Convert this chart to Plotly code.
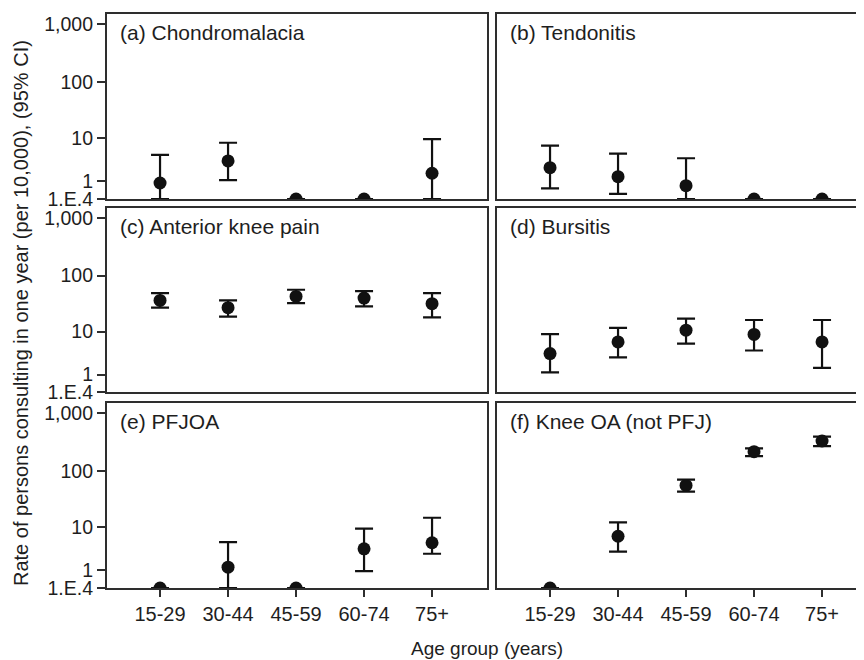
import plotly.graph_objects as go

# ---------------- data ----------------
age_groups = ["15-29", "30-44", "45-59", "60-74", "75+"]
panel_titles = ["(a) Chondromalacia", "(b) Tendonitis", "(c) Anterior knee pain",
                "(d) Bursitis", "(e) PFJOA", "(f) Knee OA (not PFJ)"]

a_rate = [0.88, 3.5, 0, 0, 1.76]
a_low = [0, 1.1, 0, 0, 0]
a_up = [4.7, 8.2, 0, 0, 9.6]

b_rate = [2.44, 1.41, 0.69, 0, 0]
b_low = [0.52, 0.22, 0, 0, 0]
b_up = [7.2, 4.98, 3.99, 0, 0]

c_rate = [36.8, 27.4, 43.3, 40.5, 32.2]
c_low = [27.4, 18.9, 33.0, 28.9, 18.3]
c_up = [49.5, 36.8, 56.7, 53.7, 49.5]

d_rate = [3.6, 6.3, 10.6, 8.8, 6.3]
d_low = [1.17, 2.94, 5.84, 4.19, 1.61]
d_up = [8.9, 11.7, 17.4, 16.4, 16.4]

e_rate = [0, 1.27, 0, 3.7, 4.96]
e_low = [0, 0, 0, 0.94, 2.86]
e_up = [0, 5.1, 0, 9.4, 15.0]

f_rate = [0, 6.7, 56.3, 216, 329]
f_low = [0, 3.2, 43.7, 181, 269]
f_up = [0, 12.3, 70.8, 246, 391]

y_tick_values = [0, 1, 10, 100, 1000]
y_tick_labels = ["1.E.4", "1", "10", "100", "1,000"]

panels = [(a_rate, a_low, a_up), (b_rate, b_low, b_up), (c_rate, c_low, c_up),
          (d_rate, d_low, d_up), (e_rate, e_low, e_up), (f_rate, f_low, f_up)]

# ---------------- layout geometry (image pixel coords, page has 8px body margin) ----------------
OFF = 8
W, H = 864 - OFF, 660 - OFF
L = 107 - OFF
T = 14 - OFF
base = 588 - OFF
B = H - base
R = 0
pw, ph = W - L - R, base - T


def dom_x(a, b):
    return [max(0.0, (a - OFF - L) / pw), min(1.0, (b - OFF - L) / pw)]


def dom_y(top, bottom):
    return [max(0.0, (base - (bottom - OFF)) / ph), min(1.0, (base - (top - OFF)) / ph)]


def px_x(x):
    return (x - OFF - L) / pw


def px_y(y):
    return (base - (y - OFF)) / ph


col_x = [dom_x(107, 487), dom_x(497, 864)]
row_y = [dom_y(14, 199), dom_y(208, 392), dom_y(403, 588)]
x_ranges = [[-0.78, 4.808], [-0.78, 4.617]]

FONT = "Liberation Sans, Arial, Helvetica, sans-serif"
LINE = "#2e2e2e"
INK = "#111111"
TXT = "#1e1e1e"

fig = go.Figure()
layout = dict(
    width=W, height=H,
    margin=dict(l=L, r=R, t=T, b=B, pad=0),
    plot_bgcolor="white", paper_bgcolor="white",
    showlegend=False,
    font=dict(family=FONT, size=19, color=TXT),
)
annotations = []

for i, (rate, low, up) in enumerate(panels):
    n = i + 1
    r, c = divmod(i, 2)
    sfx = "" if n == 1 else str(n)
    fig.add_trace(go.Scatter(
        x=age_groups,
        y=[v + 1 for v in rate],
        mode="markers",
        marker=dict(size=13, color=INK),
        error_y=dict(type="data", symmetric=False,
                     array=[u - v for u, v in zip(up, rate)],
                     arrayminus=[v - l for v, l in zip(rate, low)],
                     thickness=2.2, width=9, color=INK),
        xaxis="x" + sfx, yaxis="y" + sfx,
        cliponaxis=True,
    ))
    layout["xaxis" + sfx] = dict(
        type="category", categoryorder="array", categoryarray=age_groups,
        domain=col_x[c], anchor="y" + sfx, range=x_ranges[c],
        showline=True, linecolor=LINE, linewidth=2.2, mirror=True,
        showgrid=False, zeroline=False,
        ticks="outside" if r == 2 else "", ticklen=7, tickwidth=2, tickcolor=LINE,
        showticklabels=(r == 2),
        tickfont=dict(size=20, color=TXT),
    )
    layout["yaxis" + sfx] = dict(
        type="log", domain=row_y[r], anchor="x" + sfx, range=[0, 3.17],
        tickvals=[v + 1 for v in y_tick_values], ticktext=y_tick_labels,
        showline=True, linecolor=LINE, linewidth=2.2, mirror=(c == 0),
        showgrid=False, zeroline=False,
        ticks="outside" if c == 0 else "", ticklen=8, tickwidth=2, tickcolor=LINE,
        showticklabels=(c == 0),
        tickfont=dict(size=19.5, color=TXT),
    )
    annotations.append(dict(
        text=panel_titles[i], xref="x" + sfx + " domain", yref="y" + sfx + " domain",
        x=0, y=1, xanchor="left", yanchor="top", xshift=11, yshift=-5,
        showarrow=False, font=dict(size=21, color=TXT, family=FONT),
    ))

annotations.append(dict(
    text="Rate of persons consulting in one year (per 10,000), (95% CI)",
    xref="paper", yref="paper", x=px_x(21), y=px_y(313),
    xanchor="center", yanchor="middle", textangle=-90, showarrow=False,
    font=dict(size=20, color=TXT, family=FONT),
))
annotations.append(dict(
    text="Age group (years)",
    xref="paper", yref="paper", x=px_x(487), y=px_y(648),
    xanchor="center", yanchor="middle", showarrow=False,
    font=dict(size=19, color=TXT, family=FONT),
))
layout["annotations"] = annotations
fig.update_layout(**layout)
fig.write_html("out.html")
